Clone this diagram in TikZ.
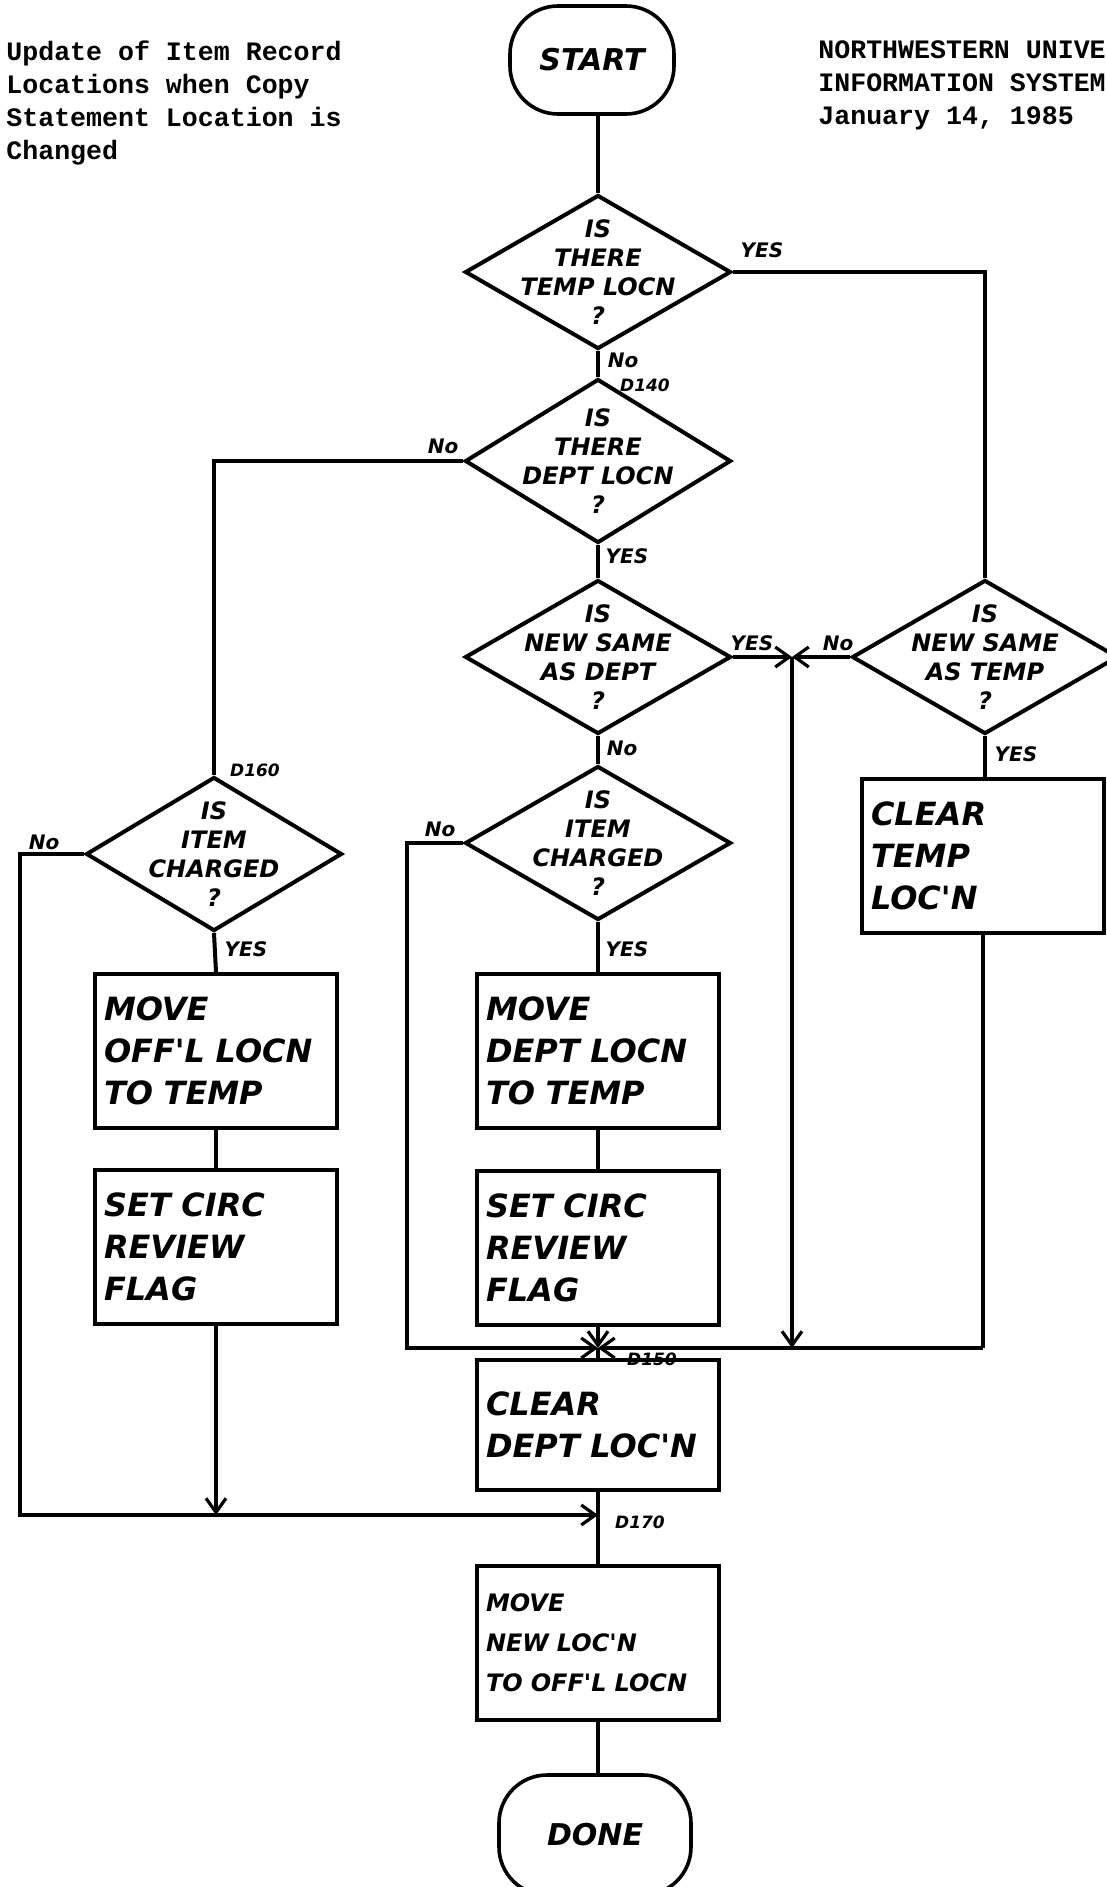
\documentclass[tikz,border=0pt]{standalone}
\usepackage{fontspec}
\setmonofont{Liberation Mono}
\newfontfamily\handfont{DejaVu Sans}[
  ItalicFont={DejaVu Sans Oblique},
  BoldItalicFont={DejaVu Sans Bold Oblique}]
\usetikzlibrary{positioning, arrows.meta, shapes.geometric, calc}

\begin{document}
\begin{tikzpicture}[
  x=0.5pt, y=-0.5pt,
  every node/.style={font=\handfont\bfseries\itshape},
  flow/.style={line width=2pt},
  flowto/.style={flow, -{Straight Barb[length=7pt,width=10pt,line width=1.6pt]}},
  terminal/.style={
    rectangle, rounded corners=24pt, draw, line width=1.8pt,
    minimum width=82pt, minimum height=54pt,
    font=\handfont\bfseries\itshape\fontsize{15}{18}\selectfont
  },
  decision/.style={
    diamond, draw, line width=2pt, inner sep=0pt,
    minimum width=133pt, minimum height=77pt
  },
  dtext/.style={
    align=center, inner sep=0pt,
    font=\handfont\bfseries\itshape\fontsize{12}{14.5}\selectfont
  },
  action/.style={
    rectangle, draw, line width=2pt, inner xsep=4pt,
    minimum width=121pt, minimum height=77pt,
    text width=112pt, align=left,
    font=\handfont\bfseries\itshape\fontsize{16}{21}\selectfont
  },
  tag/.style={inner sep=1pt, font=\handfont\bfseries\itshape\fontsize{10}{10}\selectfont},
  ref/.style={inner sep=1pt, font=\handfont\bfseries\itshape\fontsize{8.5}{8.5}\selectfont},
  header/.style={inner sep=0pt, align=left, font=\ttfamily\bfseries\fontsize{13.3}{16.5}\selectfont},
]
\useasboundingbox (0,0) rectangle (1107,1887);

% Header texts
\node[header, anchor=north west] (title) at (6,40)
  {Update of Item Record\\Locations when Copy\\Statement Location is\\Changed};
\node[header, anchor=north west] (source) at (818,40)
  {NORTHWESTERN UNIVE\\INFORMATION SYSTEM\\January 14, 1985};

% Terminals
\node[terminal] (start) at (592,60) {START};
\node[terminal, minimum width=96pt, minimum height=60pt] (done) at (595,1835) {DONE};

% Decisions
\node[decision, label={[dtext]center:IS\\THERE\\TEMP LOCN\\?}] (tempq) at (598,272) {};
\node[decision, minimum height=82pt, label={[dtext]center:IS\\THERE\\DEPT LOCN\\?}] (deptq) at (598,461) {};
\node[decision, label={[dtext]center:IS\\NEW SAME\\AS DEPT\\?}] (samedq) at (598,657) {};
\node[decision, label={[dtext]center:IS\\NEW SAME\\AS TEMP\\?}] (sametq) at (985,657) {};
\node[decision, minimum width=128pt, label={[dtext]center:IS\\ITEM\\CHARGED\\?}] (chargeL) at (214,854) {};
\node[decision, label={[dtext]center:IS\\ITEM\\CHARGED\\?}] (chargeC) at (598,843) {};

% Actions
\node[action] (clrtemp) at (983,856) {CLEAR\\TEMP\\LOC'N};
\node[action] (movoffl) at (216,1051) {MOVE\\OFF'L LOCN\\TO TEMP};
\node[action] (flagL) at (216,1247) {SET CIRC\\REVIEW\\FLAG};
\node[action] (movdept) at (598,1051) {MOVE\\DEPT LOCN\\TO TEMP};
\node[action] (flagC) at (598,1248) {SET CIRC\\REVIEW\\FLAG};
\node[action, minimum height=65pt] (clrdept) at (598,1425) {CLEAR\\DEPT LOC'N};
\node[action, font=\handfont\bfseries\itshape\fontsize{12}{20}\selectfont] (movnew) at (598,1643)
  {MOVE\\NEW LOC'N\\TO OFF'L LOCN};

% Junctions
\coordinate (jYes) at (792,657);
\coordinate (jMid) at (792,1348);
\coordinate (j150) at (598,1348);
\coordinate (jRgt) at (983,1348);
\coordinate (jLft) at (407,1348);
\coordinate (j170) at (598,1515);
\coordinate (jOut) at (20,1515);

% Main column
\draw[flow] (tempq.north) -- (tempq.north |- start.south);
\draw[flow] (tempq.south) -- (deptq.north);
\draw[flow] (deptq.south) -- (samedq.north);
\draw[flow] (samedq.south) -- (chargeC.north);
\draw[flow] (chargeC.south) -- (movdept.north);
\draw[flow] (movdept.south) -- (flagC.north);
\draw[flowto] (flagC.south) -- (j150);
\draw[flow] (j150) -- (clrdept.north);
\draw[flow] (clrdept.south) -- (movnew.north);
\draw[flow] (movnew.south) -- (done.north -| movnew.south);

% Temp branch
\draw[flow] (tempq.east) -| (sametq.north);
\draw[flowto] (samedq.east) -- (jYes);
\draw[flowto] (sametq.west) -- (jYes);
\draw[flowto] (jYes) -- (jMid);
\draw[flow] (sametq.south) -- (sametq.south |- clrtemp.north);
\draw[flow] (clrtemp.south) -- (jRgt);
\draw[flowto] (jRgt) -- (j150);
\draw[flowto] (chargeC.west) -| (jLft) -- (j150);

% Left branch
\draw[flow] (deptq.west) -| (chargeL.north);
\draw[flow] (chargeL.south) -- (movoffl.north);
\draw[flow] (movoffl.south) -- (flagL.north);
\draw[flowto] (flagL.south) -- (flagL.south |- j170);
\draw[flowto] (chargeL.west) -| (jOut) -- (j170);

% Branch labels
\node[tag] (yesA) at (762,250) {YES};
\node[tag] (noA) at (623,360) {No};
\node[ref] (d140) at (645,385) {D140};
\node[tag] (noB) at (443,446) {No};
\node[tag] (yesB) at (627,556) {YES};
\node[tag] (yesC) at (752,643) {YES};
\node[tag] (noC) at (622,748) {No};
\node[tag] (noD) at (838,643) {No};
\node[tag] (yesD) at (1016,754) {YES};
\node[ref] (d160) at (255,770) {D160};
\node[tag] (noE) at (44,842) {No};
\node[tag] (yesE) at (246,949) {YES};
\node[tag] (noF) at (440,829) {No};
\node[tag] (yesF) at (627,949) {YES};
\node[ref] (d150) at (652,1359) {D150};
\node[ref] (d170) at (640,1522) {D170};

\end{tikzpicture}
\end{document}
